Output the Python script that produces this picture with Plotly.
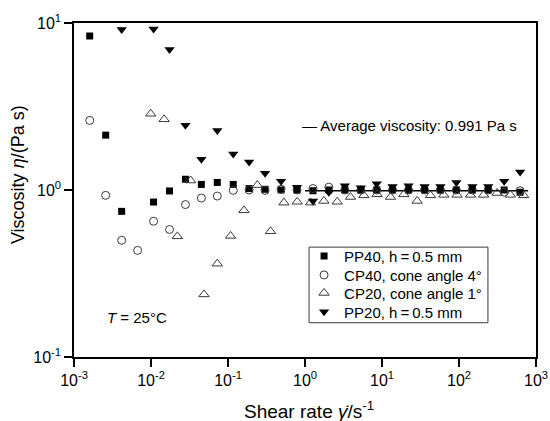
import plotly.graph_objects as go

# Shear rates (1/s) for PP40, CP40, PP20
rate_a = [0.0016, 0.00258, 0.00416, 0.0067, 0.0108, 0.0174, 0.028, 0.0451, 0.0726, 0.117,
          0.188, 0.303, 0.489, 0.787, 1.27, 2.04, 3.29, 5.30, 8.53, 13.7,
          22.1, 35.7, 57.4, 92.5, 149, 240, 386, 622]
# Shear rates (1/s) for CP20
rate_b = [0.00991, 0.0148, 0.022, 0.0327, 0.0488, 0.0726, 0.108, 0.161, 0.24, 0.357,
          0.532, 0.793, 1.18, 1.76, 2.62, 3.9, 5.81, 8.65, 12.9, 19.2,
          28.6, 42.6, 63.4, 94.4, 141, 209, 312, 465, 692]

pp40 = [8.36, 2.13, 0.745, None, 0.847, 0.987, 1.16, 1.08, 1.11, 1.08,
        1.02, 1.01, 1.0, 1.0, 0.99, 1.0, 1.0, 1.0, 1.0, 1.0,
        1.0, 1.0, 1.0, 1.0, 1.0, 1.0, 1.0, 0.97]
cp40 = [2.61, 0.929, 0.50, 0.435, 0.65, 0.58, 0.818, 0.895, 0.92, 0.995,
        1.0, 0.995, 1.01, 1.0, 1.02, 1.04, 1.0, 1.0, 1.0, 1.0,
        1.0, 1.0, 1.0, 1.0, 1.0, 1.0, 0.97, 0.99]
pp20 = [None, None, 9.13, None, 9.2, 6.93, 2.44, 1.53, 2.27, 1.64,
        1.47, 1.26, 1.13, 1.04, 0.86, 0.97, 1.06, 1.03, 1.09, 1.05,
        1.06, 1.05, 1.05, 1.11, 1.05, 1.05, 1.13, 1.28]
cp20 = [2.86, 2.65, 0.528, 1.14, 0.237, 0.362, 0.531, 0.756, 1.07, 0.566,
        0.84, 0.85, 0.84, 0.86, 0.85, 0.908, 0.929, 0.942, 0.908, 0.942,
        0.86, 0.929, 0.935, 0.935, 0.935, 0.935, 0.96, 0.935, 0.929]

avg_rate = [1.0, 790]
avg_visc = [0.991, 0.991]

names = ["PP40, h\u2009=\u20090.5 mm", "CP40, cone angle 4°", "CP20, cone angle 1°", "PP20, h\u2009=\u20090.5 mm"]

x_tickvals = [1e-3, 1e-2, 1e-1, 1, 10, 100, 1000]
x_ticktext = ["10<sup>-3</sup>", "10<sup>-2</sup>", "10<sup>-1</sup>", "10<sup>0</sup>",
              "10<sup>1</sup>", "10<sup>2</sup>", "10<sup>3</sup>"]
y_tickvals = [0.1, 1, 10]
y_ticktext = ["10<sup>-1</sup>", "10<sup>0</sup>", "10<sup>1</sup>"]

FONT = "Liberation Sans, Arial, sans-serif"
GRAY = "#3a3a3a"

fig = go.Figure()
fig.add_trace(go.Scatter(x=avg_rate, y=avg_visc, mode="lines",
                         line=dict(color="black", width=1.5), showlegend=False))
fig.add_trace(go.Scatter(x=rate_a, y=pp40, mode="markers", name=names[0], legend="legend",
                         marker=dict(symbol="square", size=7, color="black")))
fig.add_trace(go.Scatter(x=rate_a, y=cp40, mode="markers", name=names[1], legend="legend2",
                         marker=dict(symbol="circle-open", size=8, color=GRAY,
                                     line=dict(width=1, color=GRAY))))
fig.add_trace(go.Scatter(x=rate_b, y=cp20, mode="markers", name=names[2], legend="legend3",
                         marker=dict(symbol="triangle-up-open", size=9, color=GRAY,
                                     line=dict(width=1, color=GRAY))))
fig.add_trace(go.Scatter(x=rate_a, y=pp20, mode="markers", name=names[3], legend="legend4",
                         marker=dict(symbol="triangle-down", size=9, color="black")))

axis_common = dict(showline=True, linecolor="black", linewidth=1.5, mirror=True,
                   ticks="outside", ticklen=8, tickwidth=1.5, tickcolor="black",
                   showgrid=False, zeroline=False, automargin=False,
                   tickfont=dict(family=FONT, size=16, color="black"))

fig.update_xaxes(type="log", range=[-3, 3], tickvals=x_tickvals, ticktext=x_ticktext, **axis_common)
fig.update_yaxes(type="log", range=[-1, 1], tickvals=y_tickvals, ticktext=y_ticktext, **axis_common)

leg_common = dict(xanchor="left", yanchor="middle", x=0.498,
                  bgcolor="rgba(0,0,0,0)", borderwidth=0,
                  font=dict(family=FONT, size=15, color="black"))
leg_y = [0.302, 0.245, 0.191, 0.135]

fig.update_layout(
    width=550, height=421,
    margin=dict(l=74, r=14, t=23, b=64, autoexpand=False),
    paper_bgcolor="white", plot_bgcolor="white",
    font=dict(family=FONT, color="black"),
    legend=dict(y=leg_y[0], **leg_common),
    legend2=dict(y=leg_y[1], **leg_common),
    legend3=dict(y=leg_y[2], **leg_common),
    legend4=dict(y=leg_y[3], **leg_common),
    shapes=[dict(type="rect", xref="paper", yref="paper",
                 x0=0.5087, x1=0.896, y0=0.1026, y1=0.329,
                 line=dict(color=GRAY, width=1))],
    annotations=[
        dict(text="Shear rate <i>γ̇</i>/s<sup>-1</sup>", xref="paper", yref="paper",
             x=0.509, y=-0.159, xanchor="center", yanchor="middle", showarrow=False,
             font=dict(family=FONT, size=19, color="black")),
        dict(text="Viscosity <i>η</i>/(Pa s)", xref="paper", yref="paper",
             x=-0.121, y=0.545, xanchor="center", yanchor="middle", showarrow=False,
             textangle=-90, font=dict(family=FONT, size=18, color="black")),
        dict(text="<i>T</i> = 25°C", xref="paper", yref="paper",
             x=0.136, y=0.117, xanchor="center", yanchor="middle", showarrow=False,
             font=dict(family=FONT, size=15, color="black")),
        dict(text="\u2015 Average viscosity: 0.991 Pa s", xref="paper", yref="paper",
             x=0.489, y=0.694, xanchor="left", yanchor="middle", showarrow=False,
             font=dict(family=FONT, size=15, color="black")),
    ],
)

fig.write_html("out.html", config={"displayModeBar": False},
               post_script="document.body.style.margin='0';document.body.style.overflow='hidden';")
